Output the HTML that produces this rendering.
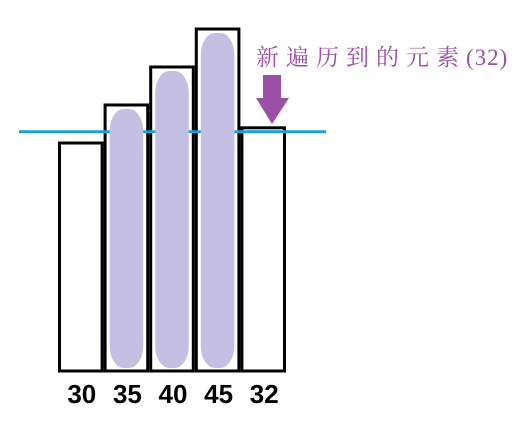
<!DOCTYPE html>
<html><head><meta charset="utf-8"><style>
body{margin:0;background:#fff;width:526px;height:416px;overflow:hidden}
</style></head><body>
<svg id="c" width="526" height="416" xmlns="http://www.w3.org/2000/svg"></svg>
<script>
const labels=["30","35","40","45","32"];
const values=[30,35,40,45,32];
const highlighted=[false,true,true,true,false];
const markerValue=32;
const NS="http://www.w3.org/2000/svg";
const svg=document.getElementById('c');
const base=371, k=7.6, x0=58, bw=45.6;
const y=v=>base-v*k;
const xb=i=>x0+i*bw;
function mk(t,a,p){const e=document.createElementNS(NS,t);for(const n in a)e.setAttribute(n,a[n]);(p||svg).appendChild(e);return e;}
const ly=y(markerValue)+4;
const line=mk('line',{x1:19,x2:326,y1:ly,y2:ly,stroke:'#1ba1d9','stroke-width':3});


values.forEach((v,i)=>{
  const r=mk('rect',{x:xb(i)+1.5,y:y(v),width:bw-3,height:base-y(v),fill:'#fff',stroke:'#000','stroke-width':3});
  
  
});
line.parentNode.appendChild(line);
values.forEach((v,i)=>{
  if(highlighted[i]){
    const top=y(v)+4, h=base-3-top;
    const p=mk('rect',{x:xb(i)+6,y:top,width:bw-12,height:h,rx:14,ry:22,fill:'#c5bfe4'});
    
    
  }
  const t=mk('text',{x:xb(i)+bw/2+1,y:403,'text-anchor':'middle','font-family':'Liberation Sans, sans-serif','font-weight':'bold','font-size':26,fill:'#000'});
  t.textContent=labels[i];
  
  
});
const cap=mk('text',{x:256,y:65,'font-family':'Liberation Serif, Noto Serif CJK SC, serif','font-size':23,fill:'#9b4fa6'});


const s1=mk('tspan',{'letter-spacing':7},cap);
s1.textContent='新遍历到的元素';
const s2=mk('tspan',{'letter-spacing':1},cap);
s2.textContent='(32)';
const ar=mk('polygon',{points:'263,75 281,75 281,98 289,98 272,124 256,98 263,98',fill:'#9b4fa6'});


</script>
</body></html>
